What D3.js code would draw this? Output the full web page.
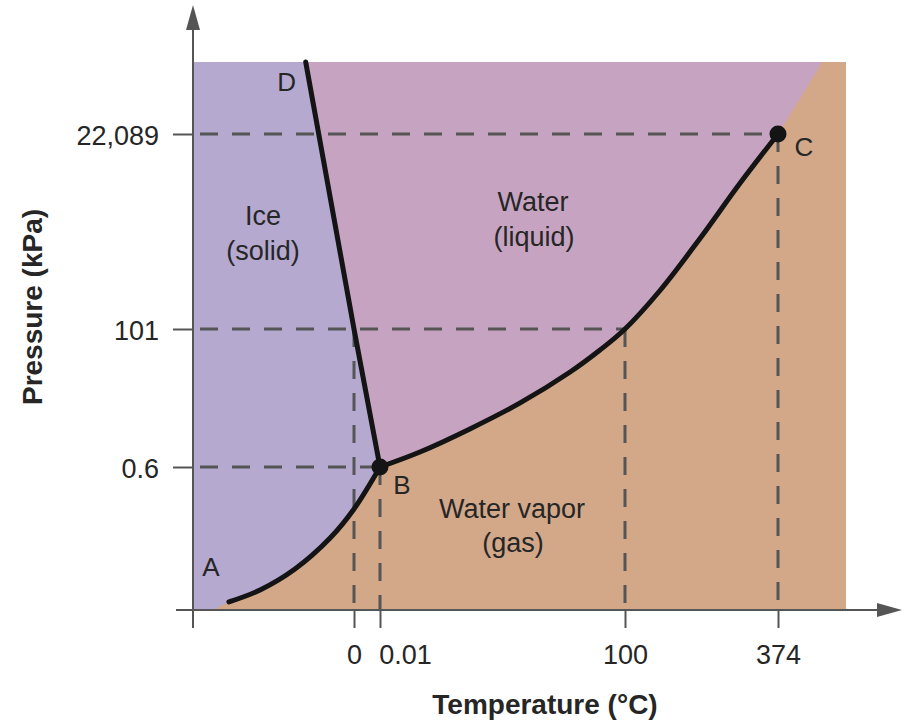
<!DOCTYPE html>
<html><head><meta charset="utf-8">
<script src="https://cdn.jsdelivr.net/npm/d3@7"></script>
<style>body{margin:0;background:#fff}</style>
</head><body><svg id="chart" width="920" height="720"></svg>
<script>
// ---------- data ----------
const tempTicks = [0, 0.01, 100, 374];
const tempTickLabels = ["0", "0.01", "100", "374"];
const pressTicks = [0.6, 101, 22089];
const pressTickLabels = ["0.6", "101", "22,089"];
// schematic (piecewise) axis breakpoints
const tempBreaks = [-60, 0, 0.01, 100, 374, 420];
const pressBreaks = [0, 0.6, 101, 22089, 30000];
// sublimation curve A -> B
const subT = [-46.6, -35.0, -22.0, -8.9, 0, 0.01];
const subP = [0.034, 0.084, 0.172, 0.302, 0.424, 0.6];
const subFootT = -52.5;   // where the solid/vapor boundary meets P = 0
// vaporization curve B -> C
const vapT = [0.01, 16.3, 36.7, 57.2, 77.6, 89.8, 100, 162.7, 234.3, 305.9, 374];
const vapP = [0.6, 11.5, 28.3, 47.2, 69.7, 85.7, 101, 4442, 10306, 16530, 22089];
// fusion line B -> D
const fusT = [0.01, 0, -18];
const fusP = [0.6, 101, 30000];
// supercritical boundary C -> top
const superT = [374, 404];
const superP = [22089, 30000];
// guide lines (dashed)
const hGuideP = [22089, 101, 0.6];
const hGuideT = [374, 100, 0.01];
const vGuideT = [0, 0.01, 100, 374];
const vGuideP = [101, 0.6, 101, 22089];
// marked points
const dotT = [0.01, 374];
const dotP = [0.6, 22089];
const pointNames = ["A", "B", "C", "D"];
const regionLabels = ["Ice", "(solid)", "Water", "(liquid)", "Water vapor", "(gas)"];

// ---------- layout ----------
const W = 920, H = 720;
const X0 = 193, X1 = 846, Y0 = 610, Y1 = 62;
const xRange = [X0, 354, 380, 625, 778, X1];
const yRange = [Y0, 467, 329, 134, Y1];
const colIce = "#b5a9d0", colLiq = "#c6a4c1", colVap = "#d2a889";
const axisCol = "#555", dashCol = "#555", ink = "#141414", txt = "#262626";
const font = "'Liberation Sans', Arial, sans-serif";

const svg = d3.select("#chart");
svg.append("rect").attr("width", W).attr("height", H).attr("fill", "#fff");

const x = d3.scaleLinear().domain(tempBreaks).range(xRange);
const y = d3.scaleLinear().domain(pressBreaks).range(yRange);

const zip = (ts, ps) => ts.map((t, i) => [t, ps[i]]);
const sub = zip(subT, subP), vap = zip(vapT, vapP), fus = zip(fusT, fusP), sup = zip(superT, superP);
const Tmin = tempBreaks[0], Tmax = tempBreaks[tempBreaks.length - 1];
const Pmax = pressBreaks[pressBreaks.length - 1];

const smooth = d3.line().x(d => x(d[0])).y(d => y(d[1])).curve(d3.curveCatmullRom.alpha(0.5));
const straight = d3.line().x(d => x(d[0])).y(d => y(d[1]));

// vapor background
svg.append("path").attr("fill", colVap)
  .attr("d", straight([[Tmin, 0], [Tmin, Pmax], [Tmax, Pmax], [Tmax, 0]]) + "Z");

// ice region
const subRev = sub.slice().reverse().concat([[subFootT, 0]]);
svg.append("path").attr("fill", colIce)
  .attr("d", straight([[Tmin, 0], [Tmin, Pmax], fus[2], fus[1], fus[0]]) + "L" + smooth(subRev).slice(1) + "Z");

// liquid region
svg.append("path").attr("fill", colLiq)
  .attr("d", straight([fus[2], sup[1], sup[0]]) + "L" + smooth(vap.slice().reverse()).slice(1) + "L" + straight([fus[1], fus[2]]).slice(1) + "Z");

// dashed guides
const g = svg.append("g").attr("stroke", dashCol).attr("stroke-width", 3).attr("stroke-dasharray", "18,14").attr("fill", "none");
hGuideP.forEach((p, i) => {
  g.append("line").attr("x1", x(Tmin)).attr("x2", x(hGuideT[i])).attr("y1", y(p)).attr("y2", y(p)).attr("stroke-dashoffset", -7);
});
vGuideT.forEach((t, i) => {
  g.append("line").attr("x1", x(t)).attr("x2", x(t)).attr("y1", y(vGuideP[i])).attr("y2", y(0));
});

// curves
const c = svg.append("g").attr("fill", "none").attr("stroke", ink).attr("stroke-width", 5).attr("stroke-linecap", "round");
c.append("path").attr("d", smooth(sub));
c.append("path").attr("d", smooth(vap));
c.append("path").attr("d", straight(fus));

svg.selectAll("circle.pt").data(dotT).join("circle").attr("class", "pt")
  .attr("cx", d => x(d)).attr("cy", (d, i) => y(dotP[i])).attr("r", 8.5).attr("fill", ink);

// axes
const xAxis = d3.axisBottom(x).tickValues(tempTicks).tickSize(18).tickPadding(17)
  .tickFormat((d, i) => tempTickLabels[i]);
const gx = svg.append("g").attr("transform", `translate(0,${Y0})`).call(xAxis);
gx.select(".domain").remove();
gx.selectAll(".tick line").attr("stroke", axisCol).attr("stroke-width", 2);
gx.selectAll(".tick text").attr("font-family", font).attr("font-size", 27).attr("fill", txt)
  .attr("dx", (d, i) => i === 1 ? 25 : 0);

const yAxis = d3.axisLeft(y).tickValues(pressTicks).tickSize(20).tickPadding(14)
  .tickFormat((d, i) => pressTickLabels[i]);
const gy = svg.append("g").attr("transform", `translate(${X0},0)`).call(yAxis);
gy.select(".domain").remove();
gy.selectAll(".tick line").attr("stroke", axisCol).attr("stroke-width", 2);
gy.selectAll(".tick text").attr("font-family", font).attr("font-size", 27).attr("fill", txt).attr("dy", "0.4em");

// axis lines with arrows
svg.append("line").attr("x1", 176).attr("x2", 880).attr("y1", Y0).attr("y2", Y0).attr("stroke", axisCol).attr("stroke-width", 2);
svg.append("line").attr("x1", X0).attr("x2", X0).attr("y1", 628).attr("y2", 28).attr("stroke", axisCol).attr("stroke-width", 2);
svg.append("path").attr("d", `M902,${Y0} L877,${Y0-7} L877,${Y0+7} Z`).attr("fill", axisCol);
svg.append("path").attr("d", `M${X0},5 L${X0-7},30 L${X0+7},30 Z`).attr("fill", axisCol);

// axis titles
svg.append("text").attr("x", 545).attr("y", 714).attr("text-anchor", "middle")
  .attr("font-family", font).attr("font-weight", "bold").attr("font-size", 28).attr("fill", txt)
  .text("Temperature (°C)");
svg.append("text").attr("transform", "translate(42,307) rotate(-90)").attr("text-anchor", "middle")
  .attr("font-family", font).attr("font-weight", "bold").attr("font-size", 28).attr("fill", txt)
  .text("Pressure (kPa)");

// region labels
const labelPos = [[263, 225], [263, 260], [533, 211], [534, 246], [512, 518], [513, 552]];
regionLabels.forEach((t, i) => {
  svg.append("text").attr("x", labelPos[i][0]).attr("y", labelPos[i][1]).attr("text-anchor", "middle")
    .attr("font-family", font).attr("font-size", 27).attr("fill", txt).text(t);
});

// point letters
const letterPts = [sub[0], [0.01, 0.6], [374, 22089], fus[2]];
const letterOff = [[-18, -26], [22, 27], [26, 22], [-19, 29]];
pointNames.forEach((n, i) => {
  svg.append("text").attr("x", x(letterPts[i][0]) + letterOff[i][0]).attr("y", y(letterPts[i][1]) + letterOff[i][1])
    .attr("text-anchor", "middle").attr("font-family", font).attr("font-size", 26).attr("fill", txt).text(n);
});
</script>
</body></html>
